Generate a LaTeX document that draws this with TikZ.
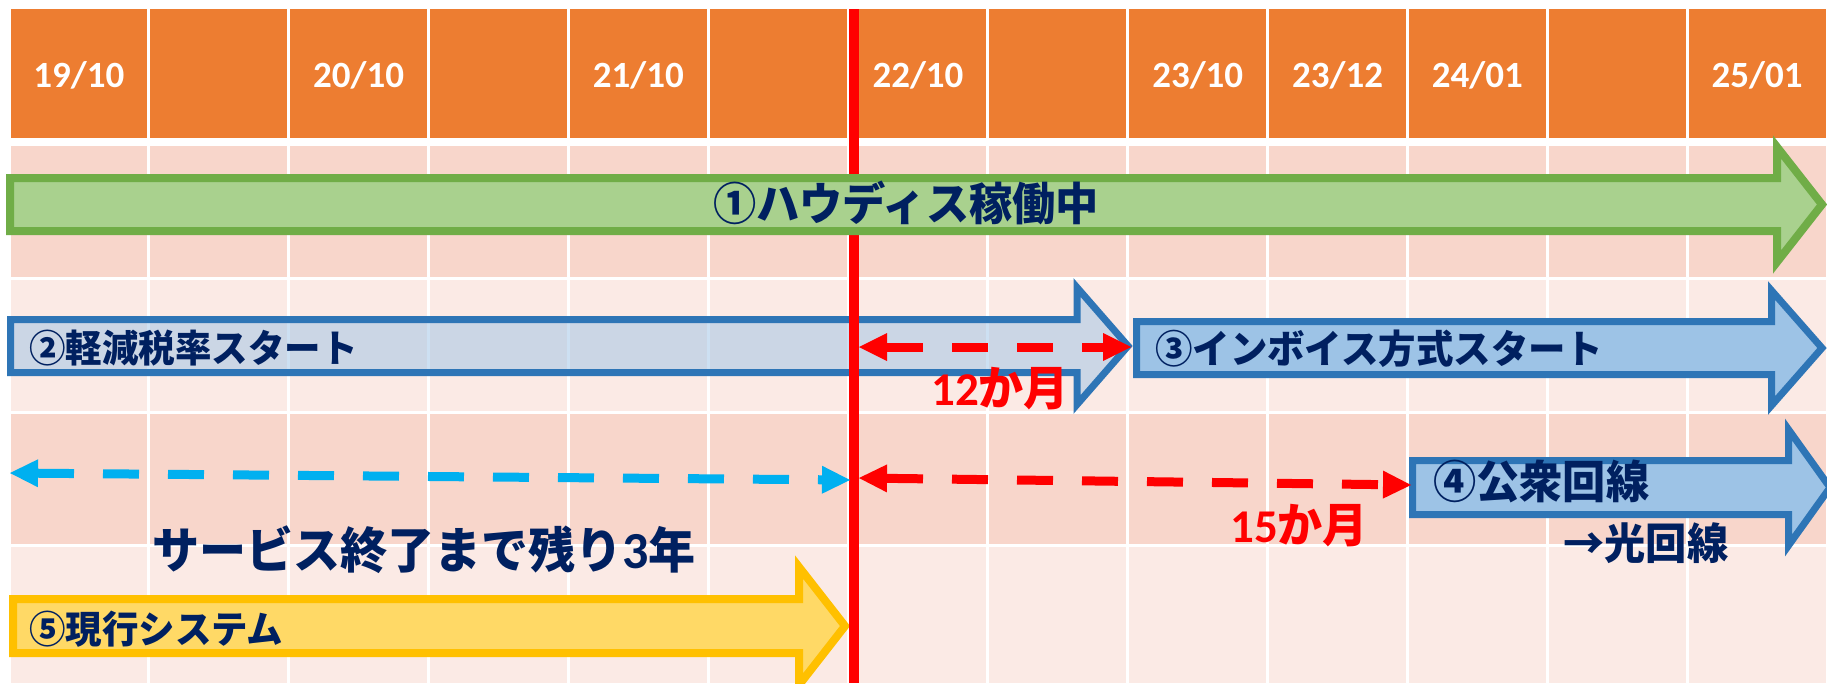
\documentclass[tikz,border=0pt]{standalone}
\usepackage{fontspec}
\setmainfont{Carlito}
\newfontfamily\jp{Noto Sans CJK JP}[FakeStretch=0.96]
\usetikzlibrary{arrows.meta}
\definecolor{hdr}{HTML}{ED7D31}
\definecolor{bandA}{HTML}{F8D6CB}
\definecolor{bandB}{HTML}{FBEAE5}
\definecolor{navy}{HTML}{002060}
\definecolor{gfill}{HTML}{A9D18E}
\definecolor{gline}{HTML}{70AD47}
\definecolor{bfill}{HTML}{9DC3E6}
\definecolor{bline}{HTML}{2E75B6}
\definecolor{yfill}{HTML}{FFD966}
\definecolor{yline}{HTML}{FFC000}
\definecolor{cyanarr}{HTML}{00B0F0}
\definecolor{redline}{HTML}{FF0000}
\newcommand\blockarr[7]{%
  \draw[#1] (#2,#5-#6) -- (#3,#5-#6) -- (#3,#5-#7) -- (#4,#5) -- (#3,#5+#7) -- (#3,#5+#6) -- (#2,#5+#6) -- cycle;}
\begin{document}
\begin{tikzpicture}[x=1pt,y=-1pt,
  hdrlabel/.style={font={\fontsize{37}{44}\selectfont\bfseries}, text=white, inner sep=0pt},
  lbl/.style={text=navy, inner sep=0pt, anchor=west},
  redlbl/.style={text=redline, inner sep=0pt, anchor=west},
  dasharrow/.style={line width=9pt, dash pattern=on 36pt off 29pt,
    {Triangle[length=28pt,width=28pt,line width=0pt]}-{Triangle[length=28pt,width=28pt,line width=0pt]}},
  greenarr/.style={draw=gline, fill=gfill, line width=8pt},
  bluearr/.style={draw=bline, fill=bfill, line width=7pt},
  yellowarr/.style={draw=yline, fill=yfill, line width=8pt},
]
\useasboundingbox (0,0) rectangle (1827,683);
\fill[white] (0,0) rectangle (1827,683);
% table cells
\foreach \i in {0,...,12} {
  \pgfmathsetmacro\xa{9+139.85*\i+1.5}
  \pgfmathsetmacro\xb{9+139.85*(\i+1)-1.5}
  \fill[hdr] (\xa,9) rectangle (\xb,138);
  \fill[bandA] (\xa,146) rectangle (\xb,276.5);
  \fill[bandB] (\xa,279.5) rectangle (\xb,410.5);
  \fill[bandA] (\xa,413.5) rectangle (\xb,543.5);
  \fill[bandB] (\xa,546.5) rectangle (\xb,683);
}
% header labels
\node[hdrlabel] (h1) at (78.9,75) {19/10};
\node[hdrlabel] (h2) at (358.6,75) {20/10};
\node[hdrlabel] (h3) at (638.3,75) {21/10};
\node[hdrlabel] (h4) at (918.0,75) {22/10};
\node[hdrlabel] (h5) at (1197.7,75) {23/10};
\node[hdrlabel] (h6) at (1337.6,75) {23/12};
\node[hdrlabel] (h7) at (1477.4,75) {24/01};
\node[hdrlabel] (h8) at (1757.1,75) {25/01};
% block arrows below red line
\blockarr{bluearr, fill opacity=0.5}{10.5}{1077}{1128}{346}{26.5}{58.5}
\blockarr{yellowarr}{13}{799}{845}{626}{27}{59}
% red vertical line
\coordinate (rtop) at (854,9);
\coordinate (rbot) at (854,683);
\draw[redline, line width=10pt] (rtop) -- (rbot);
% block arrows above
\blockarr{greenarr}{10}{1777}{1822}{204.5}{26.5}{57.5}
\blockarr{bluearr}{1136.5}{1771.5}{1822}{348}{26.5}{57.5}
\blockarr{bluearr}{1412.5}{1788.5}{1830}{487.5}{27}{58}
% labels
\node[lbl, font={\fontsize{45}{54}\selectfont\jp\bfseries}] (t1) at (713,203) {①ハウディス稼働中};
\node[lbl, font={\fontsize{38}{46}\selectfont\jp\bfseries}] (t2) at (29,348) {②軽減税率スタート};
\node[lbl, font={\fontsize{39}{48}\selectfont\jp\bfseries}] (t3) at (1155,349) {③インボイス方式スタート};
\node[lbl, font={\fontsize{45}{54}\selectfont\jp\bfseries}] (t4) at (1433,481) {④公衆回線};
\node[lbl, font={\fontsize{43}{52}\selectfont\jp\bfseries}] (t4b) at (1563,543) {→光回線};
\node[lbl, font={\fontsize{38}{46}\selectfont\jp\bfseries}] (t5) at (29,629) {⑤現行システム};
\node[lbl, font={\fontsize{49}{58}\selectfont\bfseries}] (t6) at (152,550) {{\jp サービス終了まで残り}\fontsize{52}{58}\selectfont 3{\jp\fontsize{49}{58}\selectfont 年}};
\node[redlbl, font={\fontsize{47}{54}\selectfont\bfseries}] (m12) at (931,389) {12{\jp か月}};
\node[redlbl, font={\fontsize{47}{54}\selectfont\bfseries}] (m15) at (1230,526) {15{\jp か月}};
% dashed arrows
\coordinate (bl) at (10,473);
\coordinate (br) at (850,480);
\coordinate (r1l) at (859,347);
\coordinate (r1r) at (1131,347);
\coordinate (r2l) at (859,478);
\coordinate (r2r) at (1411,485);
\draw[dasharrow, cyanarr] (bl) -- (br);
\draw[dasharrow, redline] (r1l) -- (r1r);
\draw[dasharrow, redline] (r2l) -- (r2r);
\end{tikzpicture}
\end{document}
